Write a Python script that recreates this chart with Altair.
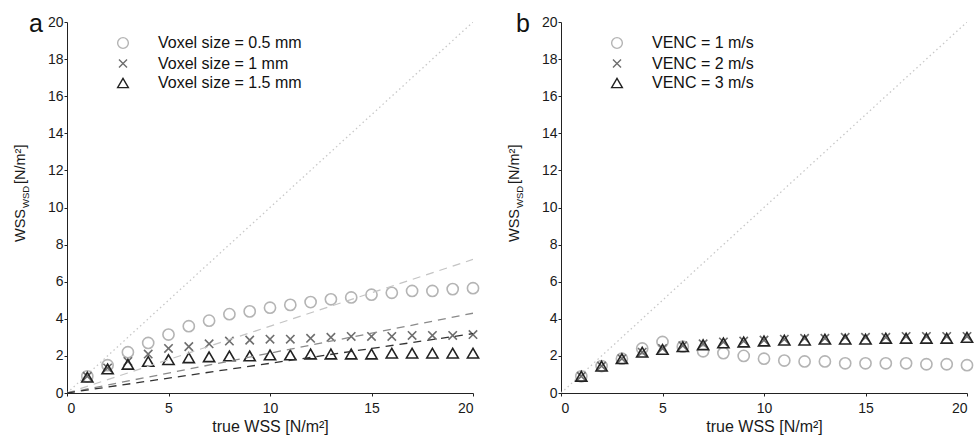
import altair as alt
import pandas as pd

# ---------------- data ----------------
true_wss = list(range(1, 21))

voxel_labels = ["Voxel size = 0.5 mm", "Voxel size = 1 mm", "Voxel size = 1.5 mm"]
voxel_05 = [0.9, 1.5, 2.2, 2.7, 3.15, 3.6, 3.9, 4.25, 4.4, 4.6, 4.75, 4.9, 5.05, 5.15, 5.3, 5.4, 5.5, 5.5, 5.6, 5.65]
voxel_1 = [0.9, 1.35, 1.7, 2.1, 2.4, 2.5, 2.65, 2.8, 2.85, 2.9, 2.9, 2.95, 3.0, 3.05, 3.05, 3.05, 3.1, 3.1, 3.1, 3.15]
voxel_15 = [0.85, 1.3, 1.55, 1.7, 1.8, 1.9, 1.95, 2.0, 2.0, 2.05, 2.05, 2.1, 2.1, 2.1, 2.1, 2.15, 2.15, 2.15, 2.15, 2.15]

venc_labels = ["VENC = 1 m/s", "VENC = 2 m/s", "VENC = 3 m/s"]
venc_1 = [0.9, 1.45, 1.85, 2.4, 2.75, 2.5, 2.25, 2.15, 2.0, 1.85, 1.75, 1.7, 1.7, 1.6, 1.6, 1.6, 1.6, 1.55, 1.55, 1.5]
venc_2 = [0.9, 1.45, 1.85, 2.2, 2.4, 2.55, 2.65, 2.75, 2.8, 2.85, 2.9, 2.95, 2.95, 3.0, 3.0, 3.0, 3.05, 3.05, 3.05, 3.05]
venc_3 = [0.9, 1.45, 1.85, 2.2, 2.35, 2.5, 2.6, 2.7, 2.75, 2.8, 2.85, 2.85, 2.9, 2.9, 2.9, 2.95, 2.95, 2.95, 2.95, 3.0]

line_x = [0, 20]
identity_y = [0, 20]
fit_labels = ["fit 0.5 mm", "fit 1 mm", "fit 1.5 mm"]
fit_ends = [[0, 7.2], [0, 4.3], [0, 3.2]]

tick_x = [0, 5, 10, 15, 20]
tick_y = list(range(0, 21, 2))

# ---------------- style ----------------
FONT = "Liberation Sans"
MARK_COLORS = ["#b4b4b4", "#6e6e6e", "#222222"]
FIT_COLORS = ["#c4c4c4", "#8a8a8a", "#333333"]
X_PATH = "M-0.75,-0.75L0.75,0.75M-0.75,0.75L0.75,-0.75"
SHAPES = ["circle", X_PATH, "triangle-up"]
W, H = 406, 371


def points_df(labels, series):
    rows = []
    for lab, ys in zip(labels, series):
        for x, y in zip(true_wss, ys):
            rows.append({"x": x, "y": y, "series": lab})
    return pd.DataFrame(rows)


def enc_xy():
    x = alt.X("x:Q", scale=alt.Scale(domain=[0, 20], nice=False),
              axis=alt.Axis(values=tick_x, title="true WSS [N/m²]", grid=False,
                            labelFont=FONT, labelFontSize=14, labelColor="#1a1a1a",
                            titleFont=FONT, titleFontSize=16, titleFontWeight="normal",
                            titleColor="#1a1a1a", labelPadding=5, titlePadding=3,
                            tickSize=3, domainColor="#222", tickColor="#222"))
    y = alt.Y("y:Q", scale=alt.Scale(domain=[0, 20], nice=False),
              axis=alt.Axis(values=tick_y, title=None, grid=False,
                            labelFont=FONT, labelFontSize=14, labelColor="#1a1a1a",
                            labelPadding=1, tickSize=3, domainColor="#222", tickColor="#222"))
    return x, y


def panel(labels, series, letter, letter_dx, fits):
    df = points_df(labels, series)
    x, y = enc_xy()

    ident = alt.Chart(pd.DataFrame({"x": line_x, "y": identity_y})).mark_line(
        color="#c8c8c8", strokeWidth=1.3, strokeDash=[1.5, 3], clip=True
    ).encode(x=x, y=y)

    leg = alt.Legend(title=None, orient="none", legendX=48, legendY=13,
                     labelFont=FONT, labelFontSize=16, labelColor="#111",
                     symbolSize=115, symbolStrokeWidth=1.4, labelOffset=27,
                     rowPadding=3.5, padding=0)

    pts = alt.Chart(df).mark_point(filled=False, strokeWidth=1.6, size=125, opacity=1).encode(
        x=x, y=y,
        shape=alt.Shape("series:N", scale=alt.Scale(domain=labels, range=SHAPES), legend=leg),
        color=alt.Color("series:N", scale=alt.Scale(domain=labels, range=MARK_COLORS), legend=leg),
    )

    layers = [ident, pts]

    if fits:
        rows = []
        for lab, ends, col in zip(fit_labels, fit_ends, FIT_COLORS):
            for xx, yy in zip(line_x, ends):
                rows.append({"x": xx, "y": yy, "fit": lab, "col": col})
        fdf = pd.DataFrame(rows)
        fl = alt.Chart(fdf).mark_line(strokeWidth=1.3, strokeDash=[8, 6], clip=True).encode(
            x=x, y=y, detail="fit:N", stroke=alt.Stroke("col:N", scale=None)
        )
        layers.append(fl)

    lab_df = pd.DataFrame({"t": [letter]})
    letter_txt = alt.Chart(lab_df).mark_text(
        fontSize=25, font=FONT, align="center", baseline="alphabetic", color="#111"
    ).encode(text="t:N", x=alt.value(letter_dx), y=alt.value(10))
    layers.append(letter_txt)

    # y-axis title: WSS_WSD [N/m²] built from three rotated pieces
    t_main = alt.Chart(pd.DataFrame({"t": ["WSS"]})).mark_text(
        fontSize=14.5, font=FONT, angle=270, align="left", baseline="alphabetic", color="#1a1a1a"
    ).encode(text="t:N", x=alt.value(-42), y=alt.value(220))
    t_sub = alt.Chart(pd.DataFrame({"t": ["WSD"]})).mark_text(
        fontSize=9.5, font=FONT, angle=270, align="left", baseline="alphabetic", color="#1a1a1a"
    ).encode(text="t:N", x=alt.value(-38), y=alt.value(186))
    t_unit = alt.Chart(pd.DataFrame({"t": ["[N/m²]"]})).mark_text(
        fontSize=14.5, font=FONT, angle=270, align="left", baseline="alphabetic", color="#1a1a1a"
    ).encode(text="t:N", x=alt.value(-42), y=alt.value(162))
    layers += [t_main, t_sub, t_unit]

    return alt.layer(*layers).properties(width=W, height=H)


left = panel(voxel_labels, [voxel_05, voxel_1, voxel_15], "a", -31, True)
right = panel(venc_labels, [venc_1, venc_2, venc_3], "b", -38, False)

chart = alt.hconcat(left, right, spacing=25).resolve_scale(
    color="independent", shape="independent"
).resolve_legend(color="independent", shape="independent").properties(
    padding={"left": 13, "top": 12, "right": 3, "bottom": 3},
    background="white",
).configure_view(stroke=None)

chart.save("out.html", embed_options={"renderer": "svg", "actions": False})
